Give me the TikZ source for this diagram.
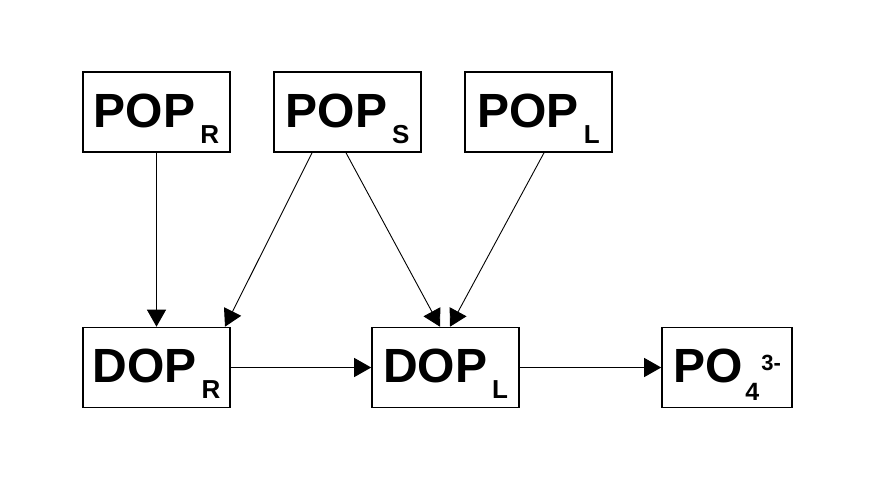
\documentclass[tikz,border=0pt]{standalone}
\usepackage{fontspec}
\setmainfont{Liberation Sans}
\usetikzlibrary{arrows.meta}
\newcommand{\poolname}[2]{#1\hspace{5pt}\raisebox{-16pt}{\fontsize{26}{26}\selectfont #2}}
\begin{document}
\begin{tikzpicture}[x=1pt,y=-1pt,
    pool/.style={draw,line width=1.6pt,minimum width=147pt,minimum height=80pt,inner sep=0pt,
      text height=35pt,text depth=5pt,font=\fontsize{48}{48}\selectfont\bfseries},
    flow/.style={line width=0.9pt,-{Triangle[length=17pt,width=19pt]}}]
  \useasboundingbox (0,0) rectangle (869,483);
        \node[pool] (popr) at (156.5,112) {\poolname{POP}{R}};
        \node[pool] (pops) at (347.5,112) {\poolname{POP}{S}};
        \node[pool] (popl) at (538.5,112) {\poolname{POP}{L}};
        \node[pool] (dopr) at (156.5,367.5) {\poolname{DOP}{R}};
        \node[pool] (dopl) at (445.5,367.5) {\poolname{DOP}{L}};
        \node[pool,minimum width=130pt] (po) at (727,367.5)
          {PO\hspace{3pt}\raisebox{-18pt}{\fontsize{25}{25}\selectfont 4}\hspace{2pt}\raisebox{12pt}{\fontsize{22}{22}\selectfont 3-}};
        \draw[flow] (popr.south) -- (dopr.north);
        \draw[flow] ([xshift=-35.5pt]pops.south) -- ([xshift=68.5pt]dopr.north);
        \draw[flow] ([xshift=-1.5pt]pops.south) -- ([xshift=-5.5pt]dopl.north);
        \draw[flow] ([xshift=5.5pt]popl.south) -- ([xshift=4.5pt]dopl.north);
        \draw[flow] (dopr.east) -- (dopl.west);
        \draw[flow] (dopl.east) -- (po.west);
\end{tikzpicture}
\end{document}
